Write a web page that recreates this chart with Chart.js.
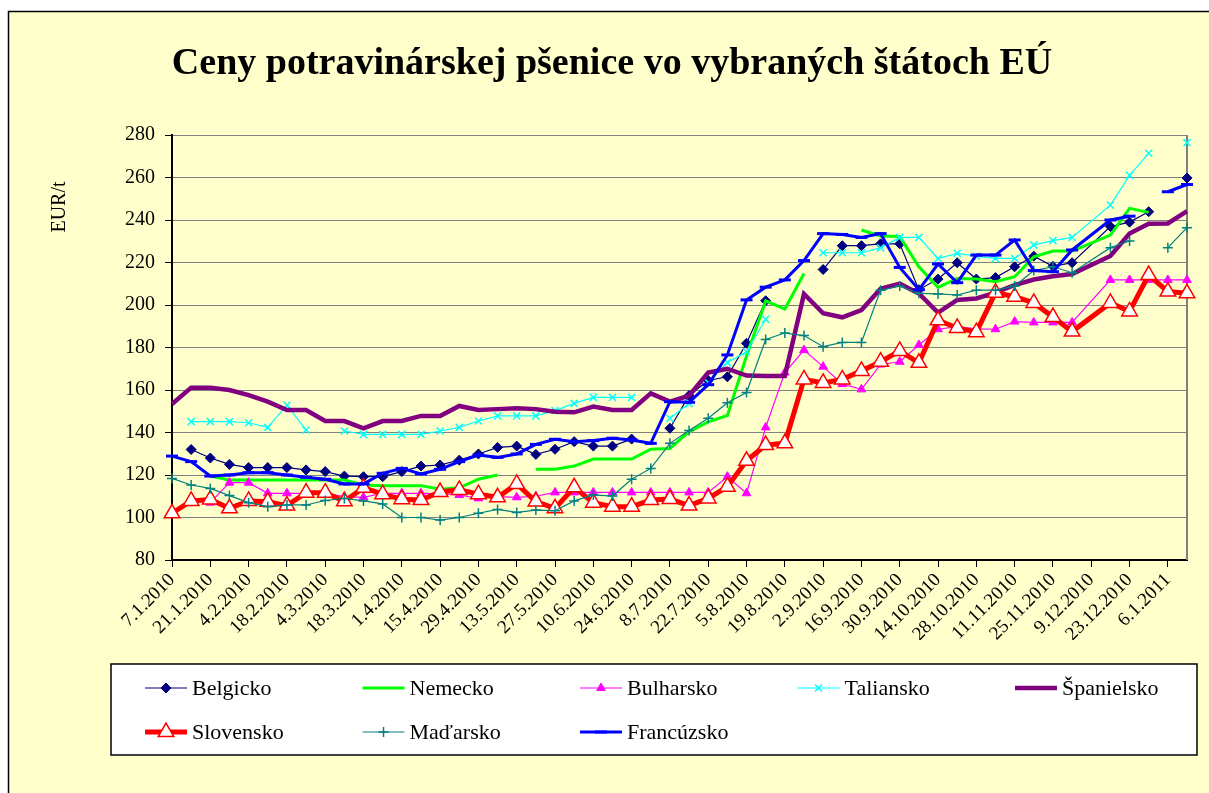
<!DOCTYPE html>
<html lang="sk">
<head>
    <meta charset="UTF-8">
    <title>Ceny potravinárskej pšenice vo vybraných štátoch EÚ</title>
    <script src="https://cdn.jsdelivr.net/npm/chart.js"></script>
    <style>
        body { margin: 0; padding: 0; background: #fff; }
        #wrap { width: 1209px; height: 793px; }
    </style>
</head>
<body>
    <div id="wrap"><canvas id="chart" width="1209" height="793"></canvas></div>

    <script>
        // weekly quotation dates (9.12.2010 is missing in the source table)
        const dates = [
            '7.1.2010', '14.1.2010', '21.1.2010', '28.1.2010', '4.2.2010', '11.2.2010', '18.2.2010', '25.2.2010', '4.3.2010', '11.3.2010',
            '18.3.2010', '25.3.2010', '1.4.2010', '8.4.2010', '15.4.2010', '22.4.2010', '29.4.2010', '6.5.2010', '13.5.2010', '20.5.2010',
            '27.5.2010', '3.6.2010', '10.6.2010', '17.6.2010', '24.6.2010', '1.7.2010', '8.7.2010', '15.7.2010', '22.7.2010', '29.7.2010',
            '5.8.2010', '12.8.2010', '19.8.2010', '26.8.2010', '2.9.2010', '9.9.2010', '16.9.2010', '23.9.2010', '30.9.2010', '7.10.2010',
            '14.10.2010', '21.10.2010', '28.10.2010', '4.11.2010', '11.11.2010', '18.11.2010', '25.11.2010', '2.12.2010',
            '16.12.2010', '23.12.2010', '30.12.2010', '6.1.2011', '13.1.2011'
        ];

        // axis labels, one every two weeks
        const tickLabels = [
            '7.1.2010', '21.1.2010', '4.2.2010', '18.2.2010', '4.3.2010', '18.3.2010', '1.4.2010', '15.4.2010', '29.4.2010',
            '13.5.2010', '27.5.2010', '10.6.2010', '24.6.2010', '8.7.2010', '22.7.2010', '5.8.2010', '19.8.2010', '2.9.2010',
            '16.9.2010', '30.9.2010', '14.10.2010', '28.10.2010', '11.11.2010', '25.11.2010', '9.12.2010', '23.12.2010', '6.1.2011'
        ];

        // EUR/t
        const belgicko = [
            null, 132, 128, 125, 123.5, 123.5, 123.5, 122.4, 121.6, 119.5,
            119.2, 119.2, 121.6, 124.2, 124.7, 127, 129.9, 133, 133.6, 129.7,
            132.1, 135.7, 133.6, 133.6, 136.9, null, 142, 157.4, 164.5, 166.2,
            182, 202, null, null, 216.7, 227.9, 227.9, 228.8, 228.8, 207.2,
            212.2, 219.9, 212.2, 212.9, 218, 223, 218.2, 219.9,
            236.9, 239, 243.9, null, 259.8
        ];
        const nemecko = [
            null, null, 119.5, 117.6, 117.6, 117.6, 117.6, 117.6, 117.6, 117.6,
            115.3, 115, 115, 115, 113.3, 114, 118, 120, null, 122.7,
            122.7, 124.2, 127.5, 127.5, 127.5, 132.1, 132.5, 140.4, 145, 148,
            176, 202, 198.1, 214.8, null, null, 235.3, 232.5, 232.2, 218,
            208.3, 212.5, 212.2, 211, 213.3, 222.7, 225.4, 225.4,
            232.9, 245.5, 243.6, null, null
        ];
        const bulharsko = [
            null, null, 107, 116.4, 116.4, 111.4, 111.4, 111.4, 111.4, 109.8,
            109.5, 111.4, 111.4, 111.4, 111.2, 110.6, 109, 109.8, 109.5, 110,
            111.8, 111.8, 111.8, 111.8, 111.8, 111.8, 111.8, 111.8, 111.8, 119.2,
            111.4, 142.4, 168.2, 178.8, 171, 162.8, 160.3, 172, 173.3, 181.2,
            188.6, 189.8, 188.8, 188.6, 192.2, 191.8, 191.8, 191.8,
            211.8, 211.8, 211.8, 211.8, 211.8
        ];
        const taliansko = [
            null, 145.1, 145.1, 145.1, 144.6, 142.4, 152.9, 141.2, null, 140.7,
            139.1, 139.1, 139.1, 139.1, 140.7, 142.4, 145.4, 147.8, 147.8, 147.8,
            150.3, 153.7, 156.5, 156.5, 156.5, null, 146.7, 153.6, 163.5, 172.9,
            178, 193.3, null, null, 224.6, 224.6, 224.6, 226.9, 231.8, 231.8,
            221.9, 224.3, 223, 221.9, 221.9, 228.2, 230.3, 231.8,
            247, 261, 271.4, null, 276.4
        ];
        const spanielsko = [
            153.4, 161.1, 161.1, 160, 157.6, 154.5, 150.6, 150.6, 145.4, 145.4,
            142, 145.4, 145.4, 147.8, 147.8, 152.5, 150.6, 151, 151.4, 151,
            149.8, 149.5, 152.2, 150.6, 150.6, 158.4, 154.5, 157.3, 168.2, 170,
            166.8, 166.6, 166.6, 205.2, 196.1, 194.2, 197.6, 207.6, 210, 205.4,
            196.4, 202.4, 203.1, 205.8, 209.4, 212, 213.5, 214.6,
            223.1, 233.6, 238.2, 238.4, 244.2
        ];
        const slovensko = [
            102, 107.8, 108.5, 104.3, 107.8, 107.4, 105.6, 111.7, 111.7, 107.6,
            114, 111, 108.6, 108.2, 112, 113, 111, 109.5, 115.8, 107.5,
            104.3, 114.2, 107, 105.1, 105.1, 108.2, 108.7, 105.6, 109, 114.5,
            126.7, 134.1, 134.9, 165, 163.3, 165, 169, 173.3, 178.4, 172.8,
            192.8, 189.2, 187.2, 205.8, 203.9, 201, 194.3, 187.5,
            201, 197, 214.1, 206.3, 205.5
        ];
        const madarsko = [
            118.4, 115.3, 113.7, 110.3, 107, 105.1, 105.9, 105.9, 108, 109,
            107.8, 106.4, 100, 100, 98.8, 100, 102, 103.8, 102.4, 103.5,
            103.2, 107.8, 110.6, 110.1, 118, 123.1, 134.9, 140.9, 146.7, 154,
            158.8, 183.8, 186.8, 185.6, 180.4, 182.4, 182.4, 207, 208.9, 205.5,
            205.2, 204.7, 207, 207, 208.9, 216.2, 218, 215.2,
            227, 230.1, null, 227, 236.4
        ];
        const francuzsko = [
            128.9, 126.3, 119.5, 120, 121.1, 121.1, 120, 118.9, 118, 115.8,
            115.8, 120.8, 123.1, 120.5, 122.7, 126.3, 129.4, 128.3, 129.9, 134.4,
            136.8, 135.7, 136.2, 137.3, 136.5, 134.9, 154.5, 154.2, 162.5, 176.5,
            202.4, 208.4, 211.8, 220.9, 233.6, 233.2, 231.8, 233.6, 217.7, 207.2,
            219.3, 210.5, 223.5, 223.5, 230.6, 216.2, 215.7, 225.9,
            240, 241.8, null, 253.3, 256.7
        ];

        const serif = "'Liberation Serif', 'Times New Roman', serif";

        // week number counted from the first date
        function weekOf(d) {
            const [day, month, year] = d.split('.').map(Number);
            return (Date.UTC(year, month - 1, day) - Date.UTC(2010, 0, 7)) / (7 * 86400000);
        }

        function series(label, values, style) {
            return Object.assign({
                label: label,
                data: dates.map((d, i) => ({ x: weekOf(d), y: values[i] })),
                fill: false,
                tension: 0,
                spanGaps: false,
                clip: false
            }, style);
        }

        const datasets = [
            series('Belgicko', belgicko, { borderColor: '#000080', borderWidth: 1.2, pointStyle: 'rectRot', pointRadius: 5, pointBackgroundColor: '#000080', pointBorderColor: '#000080', pointBorderWidth: 1 }),
            series('Nemecko', nemecko, { borderColor: '#00FF00', borderWidth: 3, pointRadius: 0 }),
            series('Bulharsko', bulharsko, { borderColor: '#FF00FF', borderWidth: 1.2, pointStyle: 'triangle', pointRadius: 5, pointBackgroundColor: '#FF00FF', pointBorderColor: '#FF00FF', pointBorderWidth: 1 }),
            series('Taliansko', taliansko, { borderColor: '#00FFFF', borderWidth: 1.2, pointStyle: 'crossRot', pointRadius: 5, pointBackgroundColor: '#00FFFF', pointBorderColor: '#00FFFF', pointBorderWidth: 1.5 }),
            series('Španielsko', spanielsko, { borderColor: '#800080', borderWidth: 4.5, pointRadius: 0 }),
            series('Slovensko', slovensko, { borderColor: '#FF0000', borderWidth: 5, pointStyle: 'triangle', pointRadius: 9, pointBackgroundColor: '#FFFFFF', pointBorderColor: '#FF0000', pointBorderWidth: 1.5 }),
            series('Maďarsko', madarsko, { borderColor: '#008080', borderWidth: 1.2, pointStyle: 'cross', pointRadius: 5, pointBackgroundColor: '#008080', pointBorderColor: '#008080', pointBorderWidth: 1.5 }),
            series('Francúzsko', francuzsko, { borderColor: '#0000FF', borderWidth: 3, pointStyle: 'line', pointRadius: 6, pointBackgroundColor: '#0000FF', pointBorderColor: '#0000FF', pointBorderWidth: 3 })
        ];
        // later series on top, like the original
        datasets.forEach((ds, i) => { ds.order = datasets.length - i; });

        function marker(ctx, ds, x, y) {
            if (!ds.pointRadius) return;
            ctx.fillStyle = ds.pointBackgroundColor;
            ctx.strokeStyle = ds.pointBorderColor;
            ctx.lineWidth = ds.pointBorderWidth;
            Chart.helpers.drawPoint(ctx, { pointStyle: ds.pointStyle, radius: ds.pointRadius, rotation: 0, borderWidth: ds.pointBorderWidth }, x, y);
        }

        // frame, title, axis title and legend
        const decor = {
            id: 'decor',
            beforeDraw(chart) {
                const ctx = chart.ctx;
                ctx.save();
                ctx.fillStyle = '#FFFFFF';
                ctx.fillRect(0, 0, chart.width, chart.height);
                ctx.fillStyle = '#FFFFCC';
                ctx.fillRect(8, 11, chart.width, chart.height);
                ctx.strokeStyle = '#000';
                ctx.lineWidth = 1.5;
                ctx.strokeRect(8.5, 11.5, chart.width + 20, chart.height + 20);
                ctx.restore();
            },
            beforeDatasetsDraw(chart) {
                const ctx = chart.ctx, a = chart.chartArea;
                ctx.save();
                ctx.strokeStyle = '#808080';
                ctx.lineWidth = 2;
                ctx.beginPath();
                ctx.moveTo(a.right, a.top);
                ctx.lineTo(a.right, a.bottom);
                ctx.stroke();
                ctx.restore();
            },
            afterDraw(chart) {
                const ctx = chart.ctx;
                ctx.save();
                ctx.fillStyle = '#000';
                ctx.textAlign = 'center';
                ctx.textBaseline = 'middle';
                ctx.font = 'bold 38px ' + serif;
                ctx.fillText('Ceny potravinárskej pšenice vo vybraných štátoch EÚ', 612, 64);

                ctx.save();
                ctx.translate(60, 207);
                ctx.rotate(-Math.PI / 2);
                ctx.font = '20px ' + serif;
                ctx.fillText('EUR/t', 0, 0);
                ctx.restore();

                // legend box
                ctx.fillStyle = '#FFFFFF';
                ctx.fillRect(111, 664, 1086, 91);
                ctx.strokeStyle = '#000';
                ctx.lineWidth = 1.5;
                ctx.strokeRect(111, 664, 1086, 91);

                ctx.font = '22px ' + serif;
                ctx.textAlign = 'left';
                datasets.forEach((ds, i) => {
                    const col = i < 5 ? i : i - 5;
                    const x0 = 145 + col * 217.5;
                    const y = i < 5 ? 688 : 732;
                    ctx.strokeStyle = ds.borderColor;
                    ctx.lineWidth = ds.borderWidth;
                    ctx.beginPath();
                    ctx.moveTo(x0, y);
                    ctx.lineTo(x0 + 42, y);
                    ctx.stroke();
                    marker(ctx, ds, x0 + 21, y);
                    ctx.fillStyle = '#000';
                    ctx.fillText(ds.label, x0 + 47, y + 1);
                });
                ctx.restore();
            }
        };

        new Chart(document.getElementById('chart').getContext('2d'), {
            type: 'line',
            data: { datasets: datasets },
            options: {
                responsive: false,
                animation: false,
                layout: { padding: { left: 40, top: 135, right: 22, bottom: 153 } },
                plugins: {
                    legend: { display: false },
                    title: { display: false },
                    tooltip: { enabled: false }
                },
                scales: {
                    x: {
                        type: 'linear',
                        min: 0,
                        max: 53,
                        afterBuildTicks: scale => { scale.ticks = tickLabels.map((t, k) => ({ value: 2 * k })); },
                        afterFit: scale => { scale.height = 80; },
                        grid: { drawOnChartArea: false, drawTicks: true, tickLength: 7, tickColor: '#000' },
                        border: { color: '#000', width: 2 },
                        ticks: {
                            autoSkip: false,
                            minRotation: 45,
                            maxRotation: 45,
                            padding: 2,
                            color: '#000',
                            font: { family: serif, size: 19 },
                            callback: value => tickLabels[value / 2]
                        }
                    },
                    y: {
                        min: 80,
                        max: 280,
                        afterFit: scale => { scale.width = 132; },
                        grid: { color: '#808080', lineWidth: 1, tickColor: '#000', tickLength: 7 },
                        border: { color: '#000', width: 2 },
                        ticks: { stepSize: 20, padding: 10, color: '#000', font: { family: serif, size: 20 } }
                    }
                }
            },
            plugins: [decor]
        });
    </script>
</body>
</html>
